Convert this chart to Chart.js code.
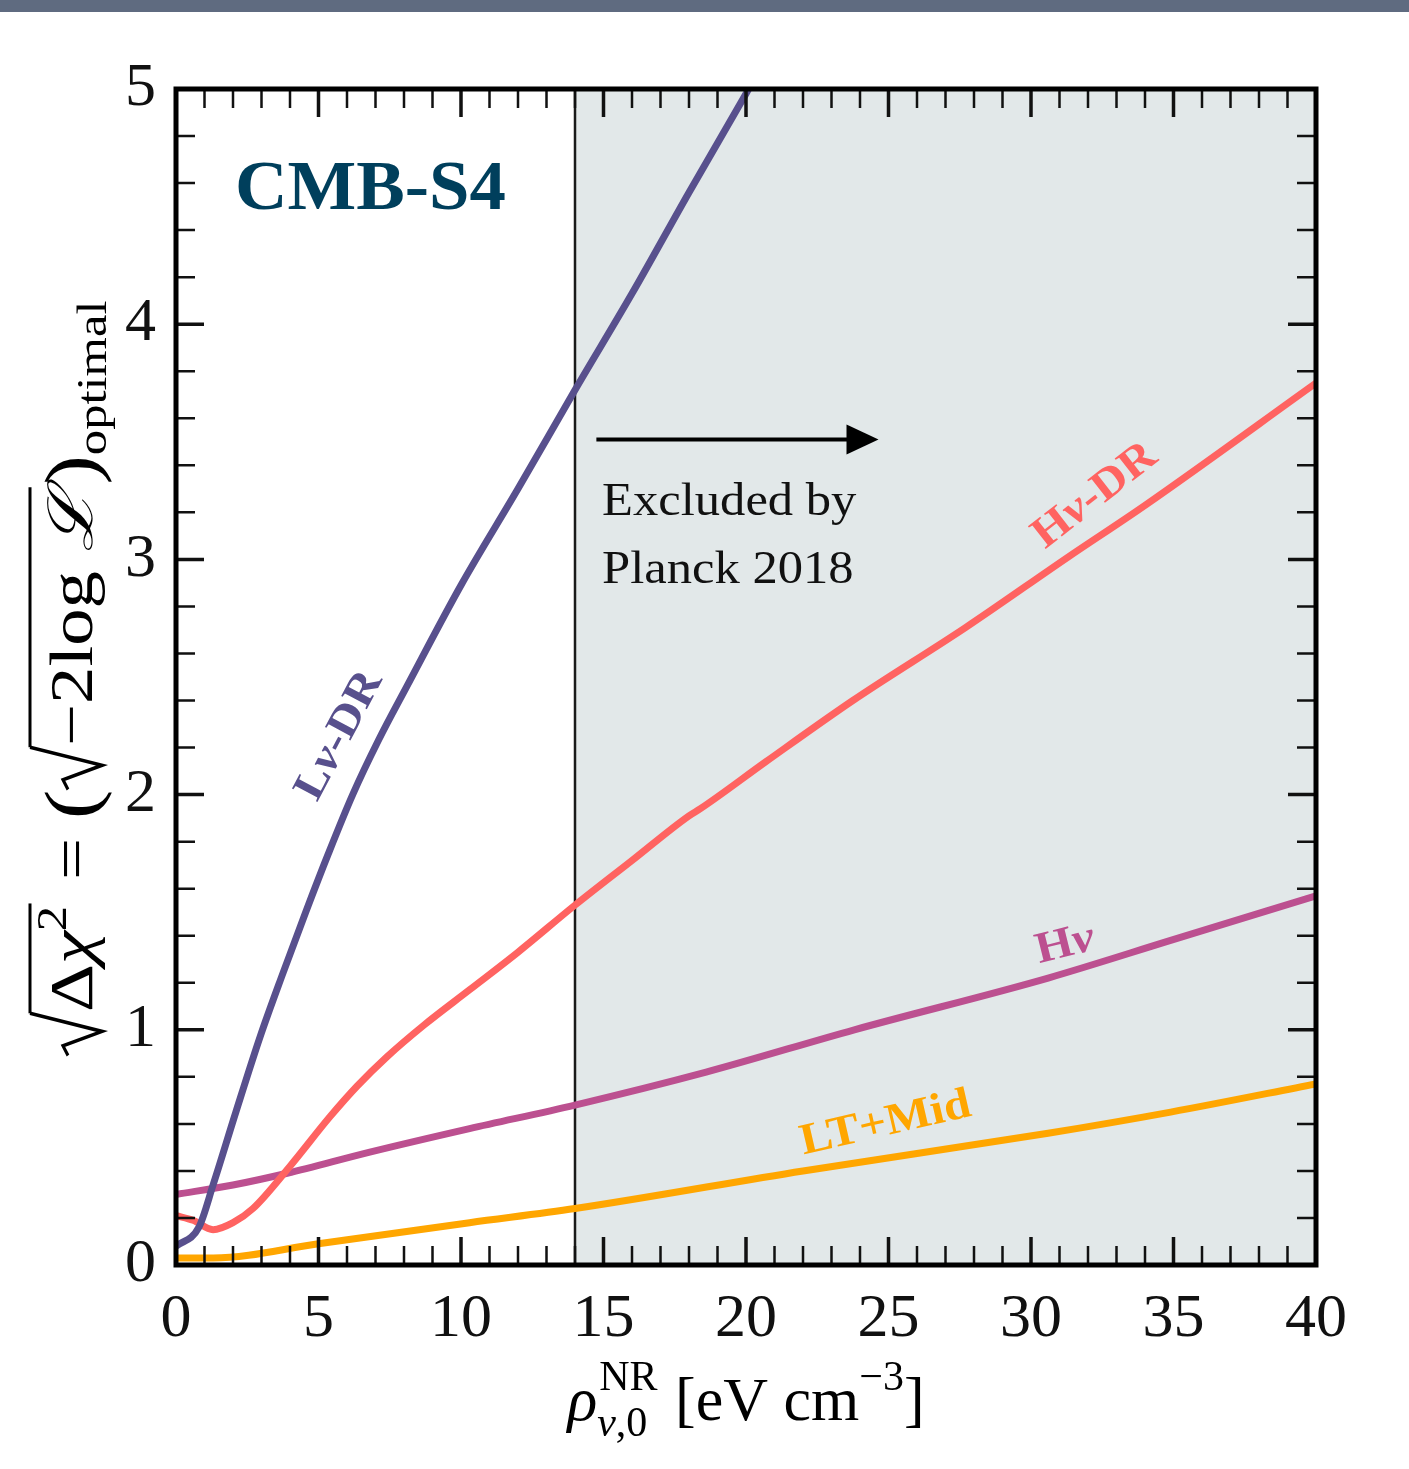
<!DOCTYPE html>
<html>
<head>
<meta charset="utf-8">
<script src="https://cdn.jsdelivr.net/npm/chart.js@4.4.0/dist/chart.umd.min.js"></script>
<style>
  html, body { margin: 0; padding: 0; background: #ffffff; }
  canvas { display: block; }
</style>
</head>
<body>
<canvas id="chart" width="1409" height="1469"></canvas>
<script>
// values: x = rho (eV cm^-3), y = sqrt(delta chi^2)
const lnuDrX = [0, 0.8, 1.3, 2.1, 2.95, 3.75, 4.55, 5.35, 6.2, 7.1, 8.1, 10.0, 12.0, 14.0, 16.0, 18.0, 20.0, 20.6];
const lnuDrY = [0.08, 0.16, 0.34, 0.65, 0.97, 1.24, 1.50, 1.75, 2.0, 2.23, 2.46, 2.89, 3.30, 3.72, 4.13, 4.56, 4.98, 5.11];

const hnuDrX = [0, 0.6, 1.3, 2.0, 2.7, 4.0, 5.4, 6.35, 7.4, 8.7, 10.3, 12.0, 14.0, 16.0, 18.0, 18.4, 20.7, 23.75, 27.7, 31.3, 34.0, 40.0];
const hnuDrY = [0.21, 0.19, 0.15, 0.18, 0.24, 0.42, 0.63, 0.76, 0.885, 1.02, 1.17, 1.33, 1.53, 1.72, 1.91, 1.94, 2.14, 2.40, 2.71, 3.01, 3.23, 3.75];

const hnuX = [0, 2.0, 3.9, 6.8, 10.3, 14.0, 18.6, 23.8, 30.6, 34.9, 40.0];
const hnuY = [0.30, 0.34, 0.39, 0.48, 0.58, 0.68, 0.82, 1.00, 1.22, 1.38, 1.57];

const ltMidX = [0, 1.3, 5.0, 10.3, 14.0, 22.0, 30.6, 34.9, 40.0];
const ltMidY = [0.03, 0.03, 0.09, 0.18, 0.24, 0.40, 0.56, 0.65, 0.77];

const planckLimit = 14.0;
const xMax = 40;
const yMax = 5;
const xTicks = [0, 5, 10, 15, 20, 25, 30, 35, 40];
const yTicks = [0, 1, 2, 3, 4, 5];

const COLORS = {
  lnuDr: "#58508d",
  hnuDr: "#ff6361",
  hnu: "#bc5090",
  ltMid: "#ffa600",
  title: "#003f5c",
  shade: "#e2e8e9",
};

const SERIF = '"Liberation Serif", "DejaVu Serif", serif';

function toPoints(xs, ys) {
  return xs.map((x, i) => ({ x: x, y: ys[i] }));
}

function curve(label, xs, ys, color) {
  return {
    label: label,
    data: toPoints(xs, ys),
    borderColor: color,
    borderWidth: 7,
    pointRadius: 0,
    cubicInterpolationMode: "monotone",
    fill: false,
    order: 0,
  };
}

// measure a list of text pieces, radicals are drawn as paths
function measureMath(ctx, segs) {
  let w = 0;
  segs.forEach((s) => {
    if (s.rad === "open") s.w = 36;
    else if (s.rad === "close") s.w = 2;
    else {
      ctx.font = s.font;
      s.w = ctx.measureText(s.text).width;
    }
    w += s.w + (s.gap || 0);
  });
  return w;
}

function drawMath(ctx, segs, x0, y0) {
  let x = x0;
  let radStart = 0;
  let radTop = 0;
  segs.forEach((s) => {
    if (s.rad === "open") {
      radTop = y0 - (s.top || 58);
      ctx.beginPath();
      ctx.lineWidth = 3;
      ctx.lineJoin = "miter";
      ctx.moveTo(x, y0 - 24);
      ctx.lineTo(x + 8, y0 - 29);
      ctx.lineTo(x + 20, y0 + 10);
      ctx.lineTo(x + 35, radTop);
      ctx.stroke();
      radStart = x + 35;
    } else if (s.rad === "close") {
      ctx.beginPath();
      ctx.lineWidth = 3;
      ctx.moveTo(radStart, radTop);
      ctx.lineTo(x + s.w, radTop);
      ctx.stroke();
    } else {
      ctx.font = s.font;
      ctx.fillText(s.text, x, y0 + (s.dy || 0));
    }
    x += s.w + (s.gap || 0);
  });
}

const decorPlugin = {
  id: "decor",
  beforeDraw(chart) {
    const ctx = chart.ctx;
    ctx.save();
    ctx.fillStyle = "#ffffff";
    ctx.fillRect(0, 0, chart.width, chart.height);
    ctx.fillStyle = "#5f6b80";
    ctx.fillRect(0, 0, chart.width, 12);
    ctx.restore();
  },
  afterDatasetsDraw(chart) {
    const ctx = chart.ctx;
    const xs = chart.scales.x;
    const ys = chart.scales.y;
    const a = chart.chartArea;
    ctx.save();

    // inward ticks on all four sides
    ctx.strokeStyle = "#111";
    for (let v = 0; v <= xMax; v += 1) {
      const major = v % 5 === 0;
      const len = major ? 28 : 19;
      const px = xs.getPixelForValue(v);
      ctx.lineWidth = major ? 3.5 : 2.5;
      ctx.beginPath();
      ctx.moveTo(px, a.bottom);
      ctx.lineTo(px, a.bottom - len);
      ctx.moveTo(px, a.top);
      ctx.lineTo(px, a.top + len);
      ctx.stroke();
    }
    for (let i = 0; i <= yMax * 5; i++) {
      const v = i / 5;
      const major = i % 5 === 0;
      const len = major ? 28 : 19;
      const py = ys.getPixelForValue(v);
      ctx.lineWidth = major ? 3.5 : 2.5;
      ctx.beginPath();
      ctx.moveTo(a.left, py);
      ctx.lineTo(a.left + len, py);
      ctx.moveTo(a.right, py);
      ctx.lineTo(a.right - len, py);
      ctx.stroke();
    }

    // frame
    ctx.lineWidth = 5;
    ctx.strokeStyle = "#000";
    ctx.strokeRect(a.left, a.top, a.right - a.left, a.bottom - a.top);

    // arrow + exclusion text
    const ax0 = xs.getPixelForValue(14.75);
    const ax1 = xs.getPixelForValue(24.65);
    const ay = ys.getPixelForValue(3.51);
    ctx.lineWidth = 4;
    ctx.beginPath();
    ctx.moveTo(ax0, ay);
    ctx.lineTo(ax1 - 28, ay);
    ctx.stroke();
    ctx.fillStyle = "#000";
    ctx.beginPath();
    ctx.moveTo(ax1, ay);
    ctx.lineTo(ax1 - 32, ay - 15);
    ctx.lineTo(ax1 - 32, ay + 15);
    ctx.closePath();
    ctx.fill();

    ctx.fillStyle = "#111";
    ctx.font = "46px " + SERIF;
    ctx.textAlign = "left";
    ctx.textBaseline = "alphabetic";
    [["Excluded by", 3.19], ["Planck 2018", 2.9]].forEach(([t, yv]) => {
      ctx.save();
      ctx.translate(xs.getPixelForValue(14.95), ys.getPixelForValue(yv));
      ctx.scale(1.1, 1);
      ctx.fillText(t, 0, 0);
      ctx.restore();
    });

    // experiment tag
    ctx.fillStyle = COLORS.title;
    ctx.font = "bold 70px " + SERIF;
    ctx.save();
    ctx.translate(xs.getPixelForValue(2.07), ys.getPixelForValue(4.49));
    ctx.scale(1.04, 1);
    ctx.fillText("CMB-S4", 0, 0);
    ctx.restore();

    // curve labels
    const labels = [
      { parts: ["L", "ν", "-DR"], x: 5.75, y: 2.25, ang: -62, color: COLORS.lnuDr },
      { parts: ["H", "ν", "-DR"], x: 32.25, y: 3.27, ang: -38, color: COLORS.hnuDr },
      { parts: ["H", "ν", ""], x: 31.2, y: 1.36, ang: -14, color: COLORS.hnu },
      { parts: ["LT+Mid", "", ""], x: 24.9, y: 0.6, ang: -13, color: COLORS.ltMid },
    ];
    labels.forEach((l) => {
      const fonts = ["bold 44px " + SERIF, "italic bold 44px " + SERIF, "bold 44px " + SERIF];
      let total = 0;
      const widths = l.parts.map((p, i) => {
        ctx.font = fonts[i];
        const w = ctx.measureText(p).width;
        total += w;
        return w;
      });
      ctx.save();
      ctx.translate(xs.getPixelForValue(l.x), ys.getPixelForValue(l.y));
      ctx.rotate((l.ang * Math.PI) / 180);
      ctx.scale(1.1, 1);
      ctx.fillStyle = l.color;
      ctx.textBaseline = "middle";
      let cx = -total / 2;
      l.parts.forEach((p, i) => {
        ctx.font = fonts[i];
        ctx.fillText(p, cx, 0);
        cx += widths[i];
      });
      ctx.restore();
    });

    // y axis title
    ctx.fillStyle = "#000";
    ctx.strokeStyle = "#000";
    ctx.textBaseline = "alphabetic";
    const big = "62px " + SERIF;
    const bigIt = "italic 62px " + SERIF;
    const sm = "42px " + SERIF;
    const paren = "74px " + SERIF;
    const ySegs = [
      { rad: "open", top: 62 },
      { text: "Δ", font: big },
      { text: "χ", font: bigIt },
      { text: "2", font: sm, dy: -26 },
      { rad: "close", gap: 4 },
      { text: " = ", font: big },
      { text: "(", font: paren, dy: 4 },
      { rad: "open", top: 62 },
      { text: "−2log ", font: big },
      { text: "ℒ", font: bigIt },
      { rad: "close", gap: 2 },
      { text: ")", font: paren, dy: 4 },
      { text: "optimal", font: sm, dy: 14 },
    ];
    const yW = measureMath(ctx, ySegs);
    ctx.save();
    ctx.translate(92, 678);
    ctx.rotate(-Math.PI / 2);
    const kY = Math.min(1.25, Math.max(0.85, 755 / yW));
    ctx.scale(kY, 1);
    drawMath(ctx, ySegs, -yW / 2, 0);
    ctx.restore();

    // x axis title
    const xSegs2 = [
      { text: " [eV cm", font: big },
      { text: "−3", font: sm, dy: -30 },
      { text: "]", font: big },
    ];
    ctx.font = bigIt;
    const rhoW = ctx.measureText("ρ").width;
    ctx.font = sm;
    const nrW = ctx.measureText("NR").width;
    const subW = ctx.measureText("ν,0").width;
    const scriptW = Math.max(nrW, subW) + 4;
    const restW = measureMath(ctx, xSegs2);
    const xW = rhoW + scriptW + restW;
    const cx = (a.left + a.right) / 2;
    const x0 = cx - xW / 2;
    const by = 1420;
    ctx.font = bigIt;
    ctx.fillText("ρ", x0, by);
    ctx.font = sm;
    ctx.fillText("NR", x0 + rhoW + 2, by - 30);
    ctx.font = "italic 42px " + SERIF;
    ctx.fillText("ν", x0 + rhoW, by + 16);
    const nuW = ctx.measureText("ν").width;
    ctx.font = sm;
    ctx.fillText(",0", x0 + rhoW + nuW, by + 16);
    drawMath(ctx, xSegs2, x0 + rhoW + scriptW, by);

    ctx.restore();
  },
};

const config = {
  type: "line",
  data: {
    datasets: [
      curve("Lν-DR", lnuDrX, lnuDrY, COLORS.lnuDr),
      curve("Hν-DR", hnuDrX, hnuDrY, COLORS.hnuDr),
      curve("Hν", hnuX, hnuY, COLORS.hnu),
      curve("LT+Mid", ltMidX, ltMidY, COLORS.ltMid),
      {
        label: "Planck limit",
        data: [{ x: planckLimit, y: 0 }, { x: planckLimit, y: yMax }],
        borderColor: "#1a1a1a",
        borderWidth: 2.5,
        pointRadius: 0,
        fill: false,
        order: 5,
      },
      {
        label: "Excluded",
        data: [{ x: planckLimit, y: yMax }, { x: xMax, y: yMax }],
        borderWidth: 0,
        borderColor: "rgba(0,0,0,0)",
        backgroundColor: COLORS.shade,
        pointRadius: 0,
        fill: "origin",
        order: 10,
      },
    ],
  },
  options: {
    responsive: false,
    animation: false,
    layout: {
      padding: { top: 89, right: 93, left: 0, bottom: 0 },
    },
    plugins: {
      legend: { display: false },
      tooltip: { enabled: false },
    },
    scales: {
      x: {
        type: "linear",
        min: 0,
        max: xMax,
        afterFit: (scale) => {
          scale.height = 204;
        },
        afterBuildTicks: (scale) => {
          scale.ticks = xTicks.map((v) => ({ value: v }));
        },
        grid: { display: false, drawTicks: false },
        border: { display: false },
        ticks: {
          color: "#111",
          padding: 18,
          font: { family: SERIF, size: 62 },
        },
      },
      y: {
        type: "linear",
        min: 0,
        max: yMax,
        afterFit: (scale) => {
          scale.width = 176;
        },
        afterBuildTicks: (scale) => {
          scale.ticks = yTicks.map((v) => ({ value: v }));
        },
        grid: { display: false, drawTicks: false },
        border: { display: false },
        ticks: {
          color: "#111",
          padding: 20,
          font: { family: SERIF, size: 62 },
        },
      },
    },
  },
  plugins: [decorPlugin],
};

new Chart(document.getElementById("chart"), config);
</script>
</body>
</html>
